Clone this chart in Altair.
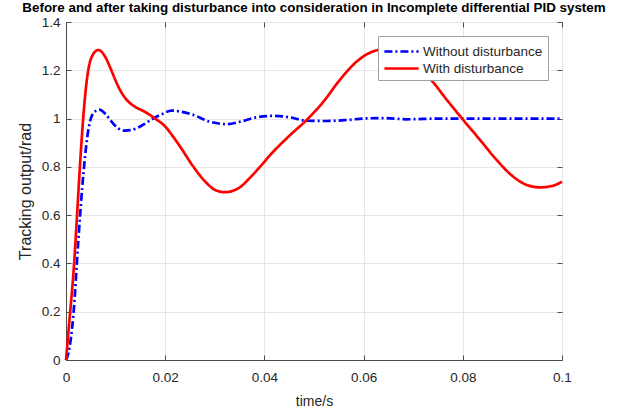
import altair as alt
import pandas as pd

# ---- data ----
t_without = [0, 0.0005, 0.0015, 0.0025, 0.0035, 0.0045, 0.0055, 0.0067, 0.0080,
             0.0092, 0.0105, 0.0119, 0.0133, 0.0146, 0.0160, 0.0173, 0.0193,
             0.0213, 0.0233, 0.0257, 0.029, 0.0324, 0.0351, 0.0384, 0.0418,
             0.0452, 0.0485, 0.0525, 0.0566, 0.0606, 0.064, 0.0687, 0.0754,
             0.085, 0.1]
v_without = [0, 0.03, 0.19, 0.50, 0.77, 0.953, 1.022, 1.037, 1.018,
             0.987, 0.960, 0.950, 0.953, 0.963, 0.980, 0.997, 1.018,
             1.033, 1.028, 1.015, 0.987, 0.977, 0.987, 1.005, 1.011,
             1.005, 0.991, 0.990, 0.994, 1.001, 1.002, 0.997, 1.0,
             1.0, 1.0]

t_with = [0, 0.0008, 0.0015, 0.0022, 0.0028, 0.0035, 0.0042, 0.0052, 0.0065,
          0.0079, 0.0089, 0.0099, 0.0109, 0.0119, 0.0129, 0.0139, 0.0159, 0.0179,
          0.0200, 0.0216, 0.023, 0.0257, 0.0284, 0.030, 0.0321, 0.0335,
          0.0351, 0.0371, 0.0391, 0.0418, 0.0452, 0.0485, 0.0519, 0.0552,
          0.0586, 0.0613, 0.0635, 0.0665, 0.0695, 0.0734, 0.0768, 0.0801,
          0.0835, 0.0868, 0.0902, 0.0929, 0.0956, 0.0982, 0.1]
v_with = [0, 0.19, 0.36, 0.59, 0.80, 1.01, 1.16, 1.256, 1.284,
          1.256, 1.212, 1.162, 1.118, 1.086, 1.064, 1.049, 1.028, 1.001,
          0.967, 0.925, 0.884, 0.80, 0.732, 0.705, 0.695, 0.700,
          0.716, 0.755, 0.80, 0.863, 0.932, 0.994, 1.07, 1.16,
          1.236, 1.273, 1.285, 1.27, 1.23, 1.165, 1.077, 0.994,
          0.911, 0.829, 0.759, 0.725, 0.715, 0.722, 0.739]

series_names = ["Without disturbance", "With disturbance"]
series_colors = ["#0000FF", "#FF0000"]
series_dash = [[8, 3, 2, 3], [1, 0]]

df_without = pd.DataFrame({"t": t_without, "v": v_without, "series": series_names[0]})
df_with = pd.DataFrame({"t": t_with, "v": v_with, "series": series_names[1]})

FONT = "Liberation Sans"
TXT = "#262626"
AX = "#4d4d4d"

x_scale = alt.Scale(domain=[0, 0.1], nice=False, zero=False)
y_scale = alt.Scale(domain=[0, 1.4], nice=False, zero=False)
x_vals = [0, 0.02, 0.04, 0.06, 0.08, 0.1]
y_vals = [0, 0.2, 0.4, 0.6, 0.8, 1.0, 1.2, 1.4]

legend = alt.Legend(
    title=None, orient="none", legendX=312, legendY=14,
    fillColor="white", strokeColor="#a0a0a0", padding=5,
    symbolType="M-1.9,0H1.9", symbolSize=324, symbolStrokeWidth=2.7,
    labelFontSize=13.5, labelFont=FONT, labelColor=TXT, rowPadding=0,
    symbolOffset=8, labelOffset=11,
)
color_enc = alt.Color("series:N",
                      scale=alt.Scale(domain=series_names, range=series_colors),
                      legend=legend)
dash_enc = alt.StrokeDash("series:N",
                          scale=alt.Scale(domain=series_names, range=series_dash),
                          legend=legend)

main_x = alt.X("t:Q", scale=x_scale, title="time/s",
               axis=alt.Axis(values=x_vals, format="~g", grid=True, gridColor="#e6e6e6",
                             tickSize=0, labelPadding=10, domainColor=AX, labelFlush=False,
                             labelFontSize=13.5, labelColor=TXT, labelFont=FONT,
                             titleFontSize=14, titleColor=TXT, titleFont=FONT,
                             titleFontWeight="normal", titlePadding=11))
main_y = alt.Y("v:Q", scale=y_scale, title="Tracking output/rad",
               axis=alt.Axis(values=y_vals, format="~g", grid=True, gridColor="#e6e6e6",
                             tickSize=0, labelPadding=6, domainColor=AX, labelFlush=False,
                             labelFontSize=13.5, labelColor=TXT, labelFont=FONT,
                             titleFontSize=16, titleColor=TXT, titleFont=FONT,
                             titleFontWeight="normal", titlePadding=8))

blue = alt.Chart(df_without).mark_line(strokeWidth=2.7, interpolate="monotone").encode(
    x=main_x, y=main_y, color=color_enc, strokeDash=dash_enc)
red = alt.Chart(df_with).mark_line(strokeWidth=2.7, interpolate="monotone").encode(
    x=alt.X("t:Q", scale=x_scale, axis=alt.Axis(orient="top", values=x_vals, labels=False,
            domain=False, grid=False, tickSize=5, tickColor=AX, offset=-5, title=None)),
    y=alt.Y("v:Q", scale=y_scale, axis=alt.Axis(orient="right", values=y_vals, labels=False,
            domain=False, grid=False, tickSize=5, tickColor=AX, offset=-5, title=None)),
    color=color_enc, strokeDash=dash_enc)
ticks_in = alt.Chart(df_without).mark_line(opacity=0).encode(
    x=alt.X("t:Q", scale=x_scale, axis=alt.Axis(orient="bottom", values=x_vals, labels=False,
            domain=False, grid=False, tickSize=5, tickColor=AX, offset=-5, title=None)),
    y=alt.Y("v:Q", scale=y_scale, axis=alt.Axis(orient="left", values=y_vals, labels=False,
            domain=False, grid=False, tickSize=5, tickColor=AX, offset=-5, title=None)),
)

chart = alt.layer(blue, red, ticks_in).resolve_axis(x="independent", y="independent").properties(
    width=496, height=338,
    autosize=alt.AutoSizeParams(type="none"),
    padding={"left": 66, "top": 22, "right": 65, "bottom": 51},
    title=alt.TitleParams(
        "Before and after taking disturbance into consideration in Incomplete differential PID system",
        fontSize=13.4, fontWeight="bold", font=FONT, color="#000000", anchor="middle",
        offset=4, dy=3),
).configure_view(stroke=AX, strokeWidth=1).configure(background="white")

chart.save("out.html", embed_options={"renderer": "svg", "actions": False})
